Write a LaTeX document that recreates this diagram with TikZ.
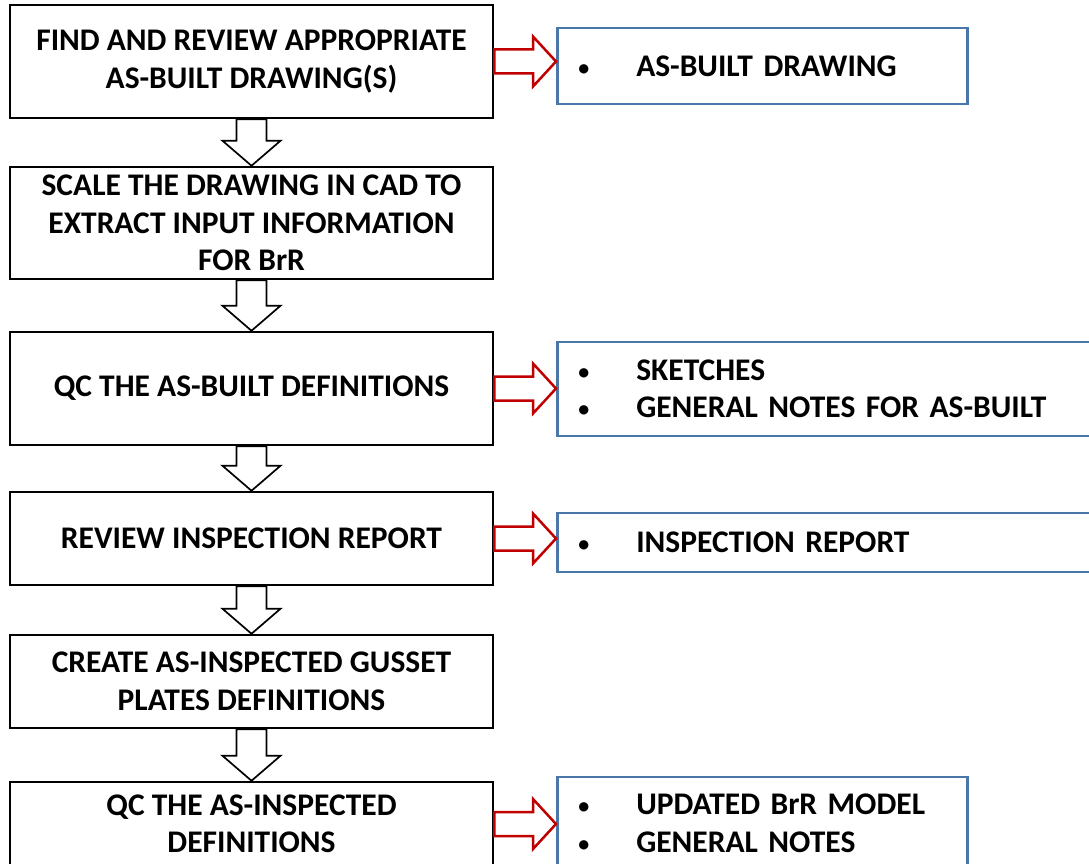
\documentclass[tikz,border=0pt]{standalone}
\usepackage{fontspec}
\setmainfont{Carlito}
\usetikzlibrary{calc}

\definecolor{boxblue}{RGB}{74,118,170}
\definecolor{arrowred}{RGB}{192,0,0}

\tikzset{
  stepbox/.style={draw=black, line width=2.5pt, minimum width=483pt,
    inner sep=0pt, align=center, font=\fontsize{31.5}{37.5}\selectfont\bfseries},
  outbox/.style={draw=boxblue, line width=2.5pt, anchor=west, inner xsep=21pt,
    inner ysep=0pt, align=left, font=\fontsize{31.5}{37.5}\selectfont\bfseries},
  downarr/.style={draw=black, line width=1.7pt, fill=white},
  sidearr/.style={draw=arrowred, line width=2.5pt, fill=white},
}

% bullet line inside an output box
\newcommand{\bitem}[1]{\mbox{\makebox[58pt][l]{\raisebox{1pt}{\fontsize{22}{22}\selectfont\textbullet}}#1}}

% hollow block arrow from one step to the next
\newcommand{\dnarrow}[2]{%
  \path (#1.south) coordinate (da) (#2.north) coordinate (db);
  \draw[downarr] ($(da)+(-15,0)$) -- ($(db)+(-15,-25)$) -- ($(db)+(-29,-25)$)
    -- (db) -- ($(db)+(29,-25)$) -- ($(db)+(15,-25)$) -- ($(da)+(15,0)$) -- cycle;}

% red block arrow from a step to its output
\newcommand{\sidearrow}[2]{%
  \path (#1.east) coordinate (sa) (#1.east -| #2.west) coordinate (sb);
  \draw[sidearr] ($(sa)+(0,-12)$) -- ($(sb)+(-23,-12)$) -- ($(sb)+(-23,-25)$)
    -- (sb) -- ($(sb)+(-23,25)$) -- ($(sb)+(-23,12)$) -- ($(sa)+(0,12)$) -- cycle;}

\begin{document}
\begin{tikzpicture}[x=1pt,y=-1pt]

    \useasboundingbox (0,0) rectangle (1089,864);
    \clip (0,0) rectangle (1089,864);

    % steps
    \node[stepbox, minimum height=113pt] (find) at (251.5,61.5)
        {FIND AND REVIEW APPROPRIATE\\AS-BUILT DRAWING(S)};
    \node[stepbox, minimum height=112pt] (scale) at (251.5,223)
        {SCALE THE DRAWING IN CAD TO\\EXTRACT INPUT INFORMATION\\FOR BrR};
    \node[stepbox, minimum height=113pt] (qcbuilt) at (251.5,388.5)
        {QC THE AS-BUILT DEFINITIONS};
    \node[stepbox, minimum height=93pt] (review) at (251.5,538.5)
        {REVIEW INSPECTION REPORT};
    \node[stepbox, minimum height=93pt] (create) at (251.5,681.5)
        {CREATE AS-INSPECTED GUSSET\\PLATES DEFINITIONS};
    \node[stepbox, minimum height=84pt] (qcinsp) at (251.5,824)
        {QC THE AS-INSPECTED\\DEFINITIONS};

    % outputs
    \node[outbox, minimum width=410pt, text width=368pt, minimum height=76pt]
        (drawing) at (556,66) {\bitem{AS-BUILT DRAWING}};
    \node[outbox, minimum width=600pt, text width=558pt, minimum height=94pt]
        (sketches) at (556,389) {\bitem{SKETCHES}\\\bitem{GENERAL NOTES FOR AS-BUILT}};
    \node[outbox, minimum width=600pt, text width=558pt, minimum height=59pt]
        (report) at (556,542.5) {\bitem{INSPECTION REPORT}};
    \node[outbox, minimum width=410pt, text width=368pt, minimum height=93pt]
        (model) at (556,823.5) {\bitem{UPDATED BrR MODEL}\\\bitem{GENERAL NOTES}};

    % flow
    \dnarrow{find}{scale}
    \dnarrow{scale}{qcbuilt}
    \dnarrow{qcbuilt}{review}
    \dnarrow{review}{create}
    \dnarrow{create}{qcinsp}

    \sidearrow{find}{drawing}
    \sidearrow{qcbuilt}{sketches}
    \sidearrow{review}{report}
    \sidearrow{qcinsp}{model}

\end{tikzpicture}
\end{document}
